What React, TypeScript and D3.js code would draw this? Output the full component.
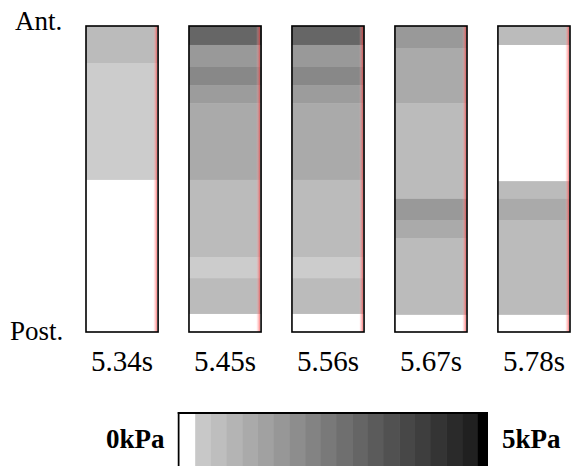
import * as d3 from 'd3'

// snapshots of the pressure strip, heel-to-toe profile
const frames = ['5.34s', '5.45s', '5.56s', '5.67s', '5.78s']

// bands along the foot: [from %, to %, kPa], 0 % = anterior edge
const f534 = [[0, 12.1, 0.7], [12.1, 50.3, 0.27], [50.3, 100, 0]]
const f545 = [
  [0, 6.2, 2.85], [6.2, 13.4, 1.56], [13.4, 19.3, 1.99], [19.3, 25.2, 1.5],
  [25.2, 50.3, 1.13], [50.3, 75.5, 0.7], [75.5, 82.4, 0.27], [82.4, 94.1, 0.7], [94.1, 100, 0],
]
const f556 = [
  [0, 6.2, 2.85], [6.2, 13.4, 1.56], [13.4, 19.3, 1.99], [19.3, 25.2, 1.5],
  [25.2, 50.3, 1.13], [50.3, 75.5, 0.7], [75.5, 82.4, 0.27], [82.4, 94.1, 0.7], [94.1, 100, 0],
]
const f567 = [
  [0, 7.2, 1.56], [7.2, 25.2, 1.13], [25.2, 56.5, 0.7], [56.5, 63.4, 1.56],
  [63.4, 69.3, 1.13], [69.3, 94.4, 0.7], [94.4, 100, 0],
]
const f578 = [
  [0, 6.2, 0.7], [6.2, 50.7, 0], [50.7, 56.5, 0.7], [56.5, 63.4, 1.13],
  [63.4, 94.4, 0.7], [94.4, 100, 0],
]
const profiles = [f534, f545, f556, f567, f578]

// colour bar bins, lower edge in kPa
const binEdges = [
  0, 0.25, 0.5, 0.75, 1, 1.25, 1.5, 1.75, 2, 2.25,
  2.5, 2.75, 3, 3.25, 3.5, 3.75, 4, 4.25, 4.5, 4.75,
]
const barLabels = ['0kPa', '5kPa']

const W = 572
const H = 466
const font = 'Liberation Serif, DejaVu Serif, serif'

const grey = d3.scaleLinear().domain([0, 5]).range([215, 17])
const color = (v: number) => {
  if (v < 0.25) return '#ffffff'
  if (v >= 4.75) return '#000000'
  const g = Math.round(grey(v))
  return d3.rgb(g, g, g).formatHex()
}

export default function App() {
  const x = d3.scaleBand().domain(frames).range([86, 570]).paddingInner(0.3)
  const y = d3.scaleLinear().domain([0, 100]).range([26, 332])
  const bw = x.bandwidth()

  const cx = d3.scaleLinear().domain([0, 5]).range([179.5, 493.5])
  const barTop = 412
  const barRight = 488

  return (
    <svg
      width={W}
      height={H}
      style={{ position: 'absolute', left: 0, top: 0, background: '#fff', fontFamily: font }}
    >
      <defs>
        <linearGradient id="edge" x1="0" x2="1" y1="0" y2="0">
          <stop offset="0" stopColor="#ffb0b0" stopOpacity={0.15} />
          <stop offset="1" stopColor="#ff3030" stopOpacity={0.6} />
        </linearGradient>
        <filter id="soft" x="0" y="-0.05" width="1" height="1.1">
          <feGaussianBlur stdDeviation="0 0.7" />
        </filter>
        <clipPath id="barclip">
          <rect x={cx(0) - 2} y={barTop} width={barRight - cx(0) + 2} height={H} />
        </clipPath>
      </defs>

      {frames.map((f, i) => {
        const x0 = x(f) as number
        return (
          <g key={f}>
            <rect x={x0} y={y(0)} width={bw} height={y(100) - y(0)} fill="#fff" />
            <g filter="url(#soft)">
              {profiles[i].map((b, j) => (
                <rect
                  key={j}
                  x={x0}
                  y={y(b[0])}
                  width={bw}
                  height={y(b[1]) - y(b[0]) + 0.5}
                  fill={color(b[2])}
                />
              ))}
            </g>
            <rect x={x0 + bw - 4.5} y={y(0)} width={3.5} height={y(100) - y(0)} fill="url(#edge)" />
            <rect
              x={x0}
              y={y(0)}
              width={bw}
              height={y(100) - y(0)}
              fill="none"
              stroke="#000"
              strokeWidth={1.6}
            />
            <text x={x0 + bw / 2} y={y(100) + 39} textAnchor="middle" fontSize={29}>
              {f}
            </text>
          </g>
        )
      })}

      <text x={15} y={y(0) + 4} fontSize={27}>Ant.</text>
      <text x={10} y={y(100) + 8} fontSize={27}>Post.</text>

      <g clipPath="url(#barclip)">
        {binEdges.map((e) => (
          <rect
            key={e}
            x={cx(e)}
            y={barTop}
            width={cx(0.25) - cx(0) + 0.5}
            height={H - barTop}
            fill={color(e + 0.125)}
          />
        ))}
        <line x1={cx(0) - 1} x2={cx(0) - 1} y1={barTop} y2={H} stroke="#000" strokeWidth={2} />
        <line x1={cx(0) - 2} x2={barRight} y1={barTop + 1} y2={barTop + 1} stroke="#000" strokeWidth={2} />
      </g>
      <text x={cx(0) - 15} y={448} textAnchor="end" fontSize={27} fontWeight="bold">
        {barLabels[0]}
      </text>
      <text x={barRight + 14} y={448} fontSize={27} fontWeight="bold">
        {barLabels[1]}
      </text>
    </svg>
  )
}
